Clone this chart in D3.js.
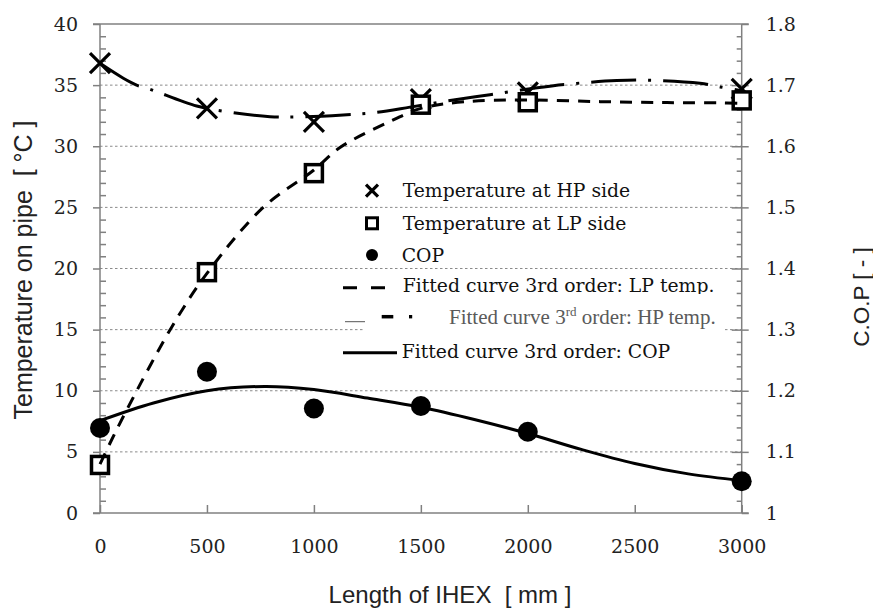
<!DOCTYPE html>
<html><head><meta charset="utf-8">
<script src="https://cdn.jsdelivr.net/npm/d3@7"></script>
<style>
html,body{margin:0;padding:0;background:#fff;}
svg{display:block;}
text{white-space:pre;}
</style>
</head><body>
<svg id="chart" width="873" height="610"></svg>
<script>
// ---------- data ----------
const lengths = [0, 500, 1000, 1500, 2000, 3000];
const hpTemp = [36.8, 33.1, 32.0, 33.85, 34.4, 34.7];
const lpTemp = [3.93, 19.7, 27.8, 33.4, 33.6, 33.75];
const cop = [1.139, 1.231, 1.171, 1.175, 1.133, 1.052];

// fitted 3rd-order curves
const lpFitX = [0, 54, 125, 335, 500, 763, 1000, 1122, 1371, 1500, 1714, 2000, 2338, 2650, 2898, 3000];
const lpFitY = [4.0, 5.97, 8.43, 15.2, 19.6, 25.0, 28.06, 29.9, 32.15, 33.1, 33.65, 33.78, 33.65, 33.57, 33.55, 33.5];
const hpFitX = [0, 109, 171, 234, 452, 592, 795, 935, 1137, 1277, 1449, 1620, 1823, 2026, 2182, 2416, 2571, 2805, 2899, 3000];
const hpFitY = [36.78, 35.56, 35.0, 34.66, 33.29, 32.83, 32.42, 32.4, 32.56, 32.74, 33.2, 33.7, 34.22, 34.74, 35.07, 35.37, 35.4, 35.15, 34.85, 34.55];
const copFitX = [0, 250, 500, 770, 1000, 1250, 1500, 1750, 2000, 2250, 2500, 2750, 3000];
const copFitY = [1.151, 1.180, 1.200, 1.207, 1.202, 1.188, 1.173, 1.153, 1.130, 1.104, 1.081, 1.064, 1.053];

const xTicks = [0, 500, 1000, 1500, 2000, 2500, 3000];
const yLeftTicks = [0, 5, 10, 15, 20, 25, 30, 35, 40];
const yRightTicks = [1, 1.1, 1.2, 1.3, 1.4, 1.5, 1.6, 1.7, 1.8];
const yRightLabels = ["1", "1.1", "1.2", "1.3", "1.4", "1.5", "1.6", "1.7", "1.8"];

const legendLabels = ["Temperature at HP side", "Temperature at LP side", "COP",
  "Fitted curve 3rd order: LP temp.", "Fitted curve 3rd order: HP temp.", "Fitted curve 3rd order: COP"];
const xTitle = "Length of IHEX  [ mm ]";
const yLeftTitle = "Temperature on pipe  [ °C ]";
const yRightTitle = "C.O.P [ - ]";

// ---------- layout ----------
const L = 100, R = 741.7, T = 24, B = 513;
const svg = d3.select("#chart");
const x = d3.scaleLinear().domain([0, 3000]).range([L, R]);
const yL = d3.scaleLinear().domain([0, 40]).range([B, T]);
const yR = d3.scaleLinear().domain([1, 1.8]).range([B, T]);
const axisCol = "#808080";
const tickFont = "'DejaVu Serif', serif";
const sansFont = "'Liberation Sans', Arial, sans-serif";

// gridlines
svg.append("g").selectAll("line").data(yLeftTicks.filter(v => v > 0 && v < 40)).join("line")
  .attr("x1", L).attr("x2", R).attr("y1", d => yL(d)).attr("y2", d => yL(d))
  .attr("stroke", "#8a8a8a").attr("stroke-width", 1).attr("stroke-dasharray", "2.5,2.5");

// minor ticks
const minorL = d3.range(0, 41, 1).filter(v => v % 5 !== 0);
const minorR = d3.range(0, 41, 1).filter(v => v % 5 !== 0).map(v => 1 + v * 0.02);

function styleAxis(g) {
  g.select(".domain").remove();
  g.selectAll(".tick line").attr("stroke", axisCol).attr("stroke-width", 1.5);
  g.selectAll("text").attr("font-family", tickFont).attr("font-size", 19).attr("fill", "#222");
}

svg.append("g").attr("transform", `translate(${L},0)`)
  .call(d3.axisRight(yL).tickValues(minorL).tickSize(6).tickFormat(""))
  .call(styleAxis);
svg.append("g").attr("transform", `translate(${R},0)`)
  .call(d3.axisLeft(yR).tickValues(minorR).tickSize(5).tickFormat(""))
  .call(styleAxis);

// left axis
svg.append("g").attr("transform", `translate(${L},0)`)
  .call(d3.axisLeft(yL).tickValues(yLeftTicks).tickSize(7).tickPadding(15).tickFormat(d3.format("d")))
  .call(styleAxis);
// right axis (major ticks crossing)
svg.append("g").attr("transform", `translate(${R},0)`)
  .call(d3.axisRight(yR).tickValues(yRightTicks).tickSize(7).tickPadding(17).tickFormat((d, i) => yRightLabels[i]))
  .call(styleAxis);
svg.append("g").attr("transform", `translate(${R},0)`)
  .call(d3.axisLeft(yR).tickValues(yRightTicks.slice(1, -1)).tickSize(10).tickFormat(""))
  .call(styleAxis);
// bottom axis
const bx = svg.append("g").attr("transform", `translate(0,${B})`)
  .call(d3.axisBottom(x).tickValues(xTicks).tickSize(-8).tickPadding(0).tickFormat(d3.format("d")))
  .call(styleAxis);
bx.selectAll("text").attr("y", 33).attr("dy", "0.35em");

// frame
const frame = svg.append("g").attr("stroke", axisCol).attr("stroke-width", 1.5).attr("fill", "none");
frame.append("line").attr("x1", L).attr("x2", L).attr("y1", T).attr("y2", B);
frame.append("line").attr("x1", R).attr("x2", R).attr("y1", T).attr("y2", B);
frame.append("line").attr("x1", L - 7).attr("x2", R + 7).attr("y1", T).attr("y2", T);
frame.append("line").attr("x1", L - 7).attr("x2", R + 7).attr("y1", B).attr("y2", B);

// titles
svg.append("text").attr("x", 450).attr("y", 603).attr("text-anchor", "middle")
  .attr("font-family", sansFont).attr("font-size", 24).attr("fill", "#222").text(xTitle);
svg.append("text").attr("transform", "translate(23,270) rotate(-90)").attr("dy", "0.35em").attr("text-anchor", "middle")
  .attr("font-family", sansFont).attr("font-size", 25).attr("fill", "#222").text(yLeftTitle);
svg.append("text").attr("transform", "translate(861,297) rotate(-90)").attr("dy", "0.35em").attr("text-anchor", "middle")
  .attr("font-family", sansFont).attr("font-size", 22.5).attr("fill", "#222").text(yRightTitle);

// ---------- markers ----------
const hpPts = lengths.map((d, i) => [d, hpTemp[i]]);
const lpPts = lengths.map((d, i) => [d, lpTemp[i]]);
const copPts = lengths.map((d, i) => [d, cop[i]]);

const xm = 10;
svg.append("g").selectAll("path").data(hpPts).join("path")
  .attr("d", d => { const cx = x(d[0]), cy = yL(d[1]); return `M${cx - xm},${cy - xm}L${cx + xm},${cy + xm}M${cx - xm},${cy + xm}L${cx + xm},${cy - xm}`; })
  .attr("stroke", "#000").attr("stroke-width", 3.2).attr("fill", "none");

const sq = 17;
svg.append("g").selectAll("rect").data(lpPts).join("rect")
  .attr("x", d => x(d[0]) - sq / 2).attr("y", d => yL(d[1]) - sq / 2).attr("width", sq).attr("height", sq)
  .attr("fill", "#fff").attr("stroke", "#000").attr("stroke-width", 3.5);

// ---------- fitted curves ----------
const lineL = d3.line().x(d => x(d[0])).y(d => yL(d[1])).curve(d3.curveCatmullRom.alpha(0.5));
const lineR = d3.line().x(d => x(d[0])).y(d => yR(d[1])).curve(d3.curveCatmullRom.alpha(0.5));

svg.append("path").datum(lpFitX.map((d, i) => [d, lpFitY[i]])).attr("d", lineL)
  .attr("fill", "none").attr("stroke", "#000").attr("stroke-width", 3).attr("stroke-dasharray", "12,9");
svg.append("path").datum(hpFitX.map((d, i) => [d, hpFitY[i]])).attr("d", lineL)
  .attr("fill", "none").attr("stroke", "#000").attr("stroke-width", 3).attr("stroke-dasharray", "45,12,3,12");
svg.append("path").datum(copFitX.map((d, i) => [d, copFitY[i]])).attr("d", lineR)
  .attr("fill", "none").attr("stroke", "#000").attr("stroke-width", 3);

svg.append("g").selectAll("circle").data(copPts).join("circle")
  .attr("cx", d => x(d[0])).attr("cy", d => yR(d[1])).attr("r", 10).attr("fill", "#000");

// ---------- legend ----------
const lg = svg.append("g");
const legFont = "'DejaVu Serif', serif";
const rowsY = [190.7, 223.3, 255, 285.7, 316.7, 351.7];
const sx = 372;
// white box behind HP fitted entry
lg.append("rect").attr("x", 363).attr("y", 304).attr("width", 360).attr("height", 30).attr("fill", "#fff");
// symbols
lg.append("path").attr("d", `M${sx - 6},${rowsY[0] - 6}L${sx + 6},${rowsY[0] + 6}M${sx - 6},${rowsY[0] + 6}L${sx + 6},${rowsY[0] - 6}`)
  .attr("stroke", "#000").attr("stroke-width", 3.2);
lg.append("rect").attr("x", sx - 5.5).attr("y", rowsY[1] - 5.5).attr("width", 11).attr("height", 11)
  .attr("fill", "#fff").attr("stroke", "#000").attr("stroke-width", 3);
lg.append("circle").attr("cx", sx).attr("cy", rowsY[2]).attr("r", 6).attr("fill", "#000");
lg.append("line").attr("x1", 343).attr("x2", 385).attr("y1", rowsY[3] + 2).attr("y2", rowsY[3] + 2)
  .attr("stroke", "#000").attr("stroke-width", 3).attr("stroke-dasharray", "14,14");
lg.append("line").attr("x1", 345).attr("x2", 365).attr("y1", rowsY[4] + 5).attr("y2", rowsY[4] + 5)
  .attr("stroke", "#555").attr("stroke-width", 1);
lg.append("line").attr("x1", 381.7).attr("x2", 393.3).attr("y1", rowsY[4]).attr("y2", rowsY[4])
  .attr("stroke", "#000").attr("stroke-width", 3.5);
lg.append("rect").attr("x", 409).attr("y", rowsY[4] - 1.7).attr("width", 3.2).attr("height", 3.4).attr("fill", "#000");
lg.append("line").attr("x1", 343).attr("x2", 397).attr("y1", rowsY[5] + 1).attr("y2", rowsY[5] + 1)
  .attr("stroke", "#000").attr("stroke-width", 3);

// clip for the LP label (cut at bottom as in the original)
svg.append("clipPath").attr("id", "lpclip").append("rect").attr("x", 390).attr("y", 270).attr("width", 400).attr("height", 24);

const textX = [402.7, 402.7, 401.7, 402.7, 449, 401.7];
[0, 1, 2, 3, 5].forEach(i => {
  const t = lg.append("text").attr("x", textX[i]).attr("y", rowsY[i]).attr("dy", "0.36em")
    .attr("font-family", legFont).attr("font-size", 18.8).attr("fill", "#111").text(legendLabels[i]);
  if (i === 3) t.attr("clip-path", "url(#lpclip)");
});
// HP fitted label with superscript
const hpLab = legendLabels[4];
const ht = lg.append("text").attr("x", textX[4]).attr("y", rowsY[4]).attr("dy", "0.36em")
  .attr("font-family", "'Liberation Serif', 'Times New Roman', serif").attr("font-size", 21).attr("fill", "#5a5a5a");
ht.append("tspan").text(hpLab.slice(0, hpLab.indexOf("3rd") + 1));
ht.append("tspan").attr("font-size", 13).attr("dy", "-0.6em").text("rd");
ht.append("tspan").attr("dy", "0.36em").text(hpLab.slice(hpLab.indexOf("3rd") + 3));
</script>
</body></html>
